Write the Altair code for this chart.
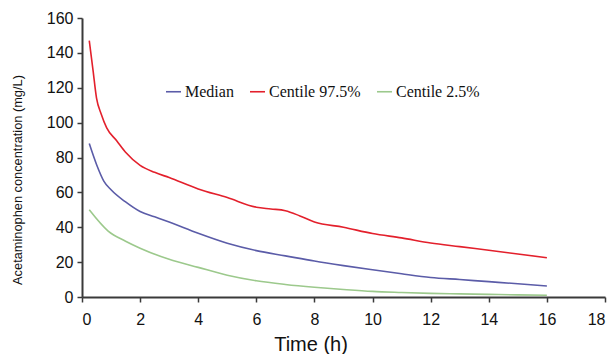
import altair as alt
import pandas as pd

series_names = ["Median", "Centile 97.5%", "Centile 2.5%"]
series_colors = ["#5b5ca8", "#e3202c", "#9cc98c"]

t_red = [0.25, 0.38, 0.5, 0.66, 0.85, 1.2, 1.5, 2, 2.5, 3, 4, 5, 6, 6.5, 7, 7.5, 8, 9, 10, 11, 12, 13, 14, 15, 16]
v_red = [147, 130, 114, 105, 97, 89.5, 83, 75.5, 71.5, 68.5, 62, 57, 51.5, 50.5, 49.5, 46.5, 43, 40, 36.4, 33.9, 31, 28.9, 26.8, 24.7, 22.5]

t_med = [0.25, 0.5, 0.75, 1, 1.5, 2, 2.5, 3, 4, 5, 6, 7, 8, 9, 10, 11, 12, 13, 14, 15, 16]
v_med = [88, 76, 66.5, 61.5, 54.5, 49, 46, 43, 36.5, 30.8, 26.6, 23.6, 20.6, 18, 15.6, 13.3, 11.2, 10, 8.8, 7.6, 6.3]

t_low = [0.25, 0.9, 1.5, 2, 3, 4, 5, 6, 7, 8, 9, 10, 11, 12, 13, 14, 15, 16]
v_low = [50, 37.8, 32, 28, 21.6, 17, 12.5, 9.3, 7.2, 5.6, 4.3, 3.2, 2.6, 2.1, 1.8, 1.5, 1.2, 1.0]

rows = []
for name, ts, vs in [(series_names[0], t_med, v_med), (series_names[1], t_red, v_red), (series_names[2], t_low, v_low)]:
    for t, v in zip(ts, vs):
        rows.append({"Series": name, "Time": t, "Conc": v})
df = pd.DataFrame(rows)

chart = alt.Chart(df).mark_line(strokeWidth=1.6, interpolate="monotone").encode(
    x=alt.X("Time:Q", title="Time (h)",
            scale=alt.Scale(domain=[0, 18], nice=False),
            axis=alt.Axis(values=list(range(0, 19, 2)), grid=False,
                          labelFontSize=16, titleFontSize=20,
                          titleX=228.5, titleY=53, titleAlign="center",
                          titleBaseline="alphabetic", labelPadding=9)),
    y=alt.Y("Conc:Q", title="Acetaminophen concentration (mg/L)",
            scale=alt.Scale(domain=[0, 160], nice=False),
            axis=alt.Axis(values=list(range(0, 161, 20)), grid=False,
                          labelFontSize=16, titleFontSize=12.8,
                          titleX=-64.5, titleY=161.5, titleAngle=270,
                          titleAlign="center", titleBaseline="middle",
                          labelPadding=4)),
    color=alt.Color("Series:N", sort=series_names,
                    scale=alt.Scale(domain=series_names, range=series_colors),
                    legend=alt.Legend(title=None, orient="none", legendX=83, legendY=65,
                                      direction="horizontal", symbolType="stroke",
                                      symbolSize=225, symbolStrokeWidth=1.6,
                                      labelFont="Liberation Serif", labelFontSize=16,
                                      labelColor="#111", labelOffset=3,
                                      columnPadding=12)),
    detail="Series:N",
).properties(
    width=523, height=279,
    autosize=alt.AutoSizeParams(type="none"),
    padding={"left": 74, "top": 10, "right": 2, "bottom": 57},
).configure_view(stroke=None).configure_axis(
    labelFont="Liberation Sans", titleFont="Liberation Sans",
    titleFontWeight="normal", labelColor="#111", titleColor="#111",
    domainColor="#3a3a3a", domainWidth=2, tickColor="#3a3a3a", tickWidth=1.5,
    tickSize=5,
)

chart.save("out.html", embed_options={"renderer": "svg", "actions": False})
